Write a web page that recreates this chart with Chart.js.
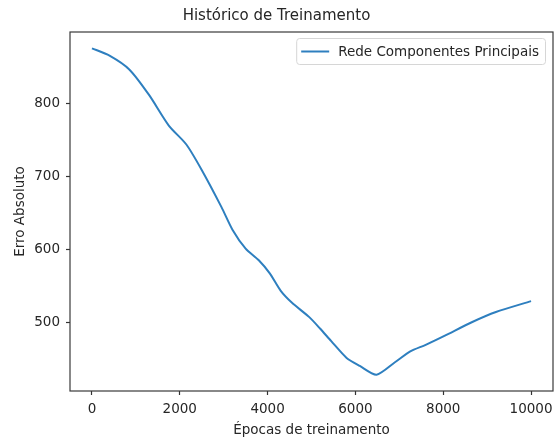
<!DOCTYPE html>
<html>
<head>
<meta charset="utf-8">
<script src="https://cdn.jsdelivr.net/npm/chart.js@4/dist/chart.umd.min.js"></script>
<style>
  html, body { margin: 0; padding: 0; background: #fff; }
  #wrap { width: 556px; height: 439px; }
</style>
</head>
<body>
<div id="wrap"><canvas id="c" width="556" height="439"></canvas></div>
<script>
// Training history: absolute error per epoch
const epochs = [0, 400, 850, 1300, 1750, 2150, 2500, 2950, 3200, 3500, 3800, 4050, 4300, 4550, 4950, 5200, 5450, 5800, 6100, 6480, 6900, 7250, 7600, 8050, 8650, 9200, 10000];
const absError = [876, 866, 847, 812, 770, 744, 709, 658, 627, 601, 585, 567, 543, 527, 507, 491, 474, 451, 440, 428, 445, 460, 469, 482, 500, 514, 529];
const xTicks = [0, 2000, 4000, 6000, 8000, 10000];
const yTicks = [500, 600, 700, 800];
const seriesLabel = 'Rede Componentes Principais';

const FONT = 'DejaVu Sans';
const INK = '#262626';
const BLUE = '#2e7fbf';
const TXT = 13.5;

// full box around the plot area
const frame = {
  id: 'frame',
  afterDatasetsDraw(chart) {
    const { ctx, chartArea: a } = chart;
    ctx.save();
    ctx.strokeStyle = '#3a3a3a';
    ctx.lineWidth = 1.2;
    ctx.strokeRect(a.left, a.top, a.right - a.left, a.bottom - a.top);
    ctx.restore();
  }
};

// legend box in the upper right corner of the plot
const cornerLegend = {
  id: 'cornerLegend',
  afterDraw(chart) {
    const { ctx, chartArea: a } = chart;
    const ds = chart.data.datasets[0];
    ctx.save();
    ctx.font = TXT + 'px "' + FONT + '"';
    const tw = ctx.measureText(ds.label).width;
    const w = tw + 48, h = 26;
    const x = a.right - 8 - w, y = a.top + 6;
    ctx.fillStyle = 'rgba(255,255,255,0.8)';
    ctx.strokeStyle = '#d6d6d6';
    ctx.lineWidth = 1;
    ctx.beginPath();
    ctx.roundRect(x + 0.5, y + 0.5, w, h, 3);
    ctx.fill();
    ctx.stroke();
    ctx.strokeStyle = ds.borderColor;
    ctx.lineWidth = 2;
    ctx.beginPath();
    ctx.moveTo(x + 5, y + h / 2 + 0.5);
    ctx.lineTo(x + 33, y + h / 2 + 0.5);
    ctx.stroke();
    ctx.fillStyle = INK;
    ctx.textBaseline = 'middle';
    ctx.fillText(ds.label, x + 42, y + h / 2 + 1);
    ctx.restore();
  }
};

new Chart(document.getElementById('c'), {
  type: 'line',
  data: {
    datasets: [{
      label: seriesLabel,
      data: epochs.map((e, i) => ({ x: e, y: absError[i] })),
      borderColor: BLUE,
      borderWidth: 2,
      pointRadius: 0,
      tension: 0.25,
      fill: false
    }]
  },
  options: {
    responsive: false,
    animation: false,
    layout: { padding: { left: 0, right: 3, top: 0, bottom: 0 } },
    plugins: {
      legend: { display: false },
      tooltip: { enabled: false },
      title: {
        display: true,
        text: 'Histórico de Treinamento',
        color: INK,
        font: { family: FONT, size: 15, weight: 'normal' },
        padding: { top: 7, bottom: 7 }
      }
    },
    scales: {
      x: {
        type: 'linear',
        min: -500,
        max: 10500,
        afterBuildTicks: ax => { ax.ticks = xTicks.map(v => ({ value: v })); },
        afterFit: ax => { ax.height = 48; ax.paddingLeft = 0; ax.paddingRight = 0; },
        border: { display: false },
        grid: { display: true, drawOnChartArea: false, drawTicks: true, tickLength: 4, color: '#333', tickWidth: 1.2 },
        ticks: { color: INK, font: { family: FONT, size: TXT }, padding: 6, maxRotation: 0, autoSkip: false, callback: v => String(v) },
        title: { display: true, text: 'Épocas de treinamento', color: INK, font: { family: FONT, size: TXT }, padding: { top: 0, bottom: 0 } }
      },
      y: {
        type: 'linear',
        min: 405.6,
        max: 898.4,
        afterBuildTicks: ax => { ax.ticks = yTicks.map(v => ({ value: v })); },
        afterFit: ax => { ax.width = 70; ax.paddingTop = 0; ax.paddingBottom = 0; },
        border: { display: false },
        grid: { display: true, drawOnChartArea: false, drawTicks: true, tickLength: 4, color: '#333', tickWidth: 1.2 },
        ticks: { color: INK, font: { family: FONT, size: TXT }, padding: 6, autoSkip: false, callback: v => String(v) },
        title: { display: true, text: 'Erro Absoluto', color: INK, font: { family: FONT, size: TXT }, padding: { top: 12, bottom: 0 } }
      }
    }
  },
  plugins: [frame, cornerLegend]
});
</script>
</body>
</html>
